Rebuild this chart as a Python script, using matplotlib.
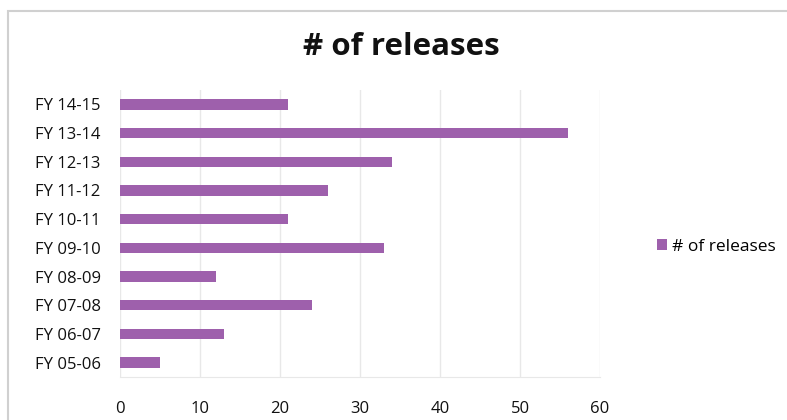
import matplotlib
matplotlib.use("Agg")
from matplotlib import pyplot as plt
from matplotlib.patches import Rectangle

plt.rcParams['font.family'] = ['Open Sans', 'DejaVu Sans']

years = ['FY 05-06', 'FY 06-07', 'FY 07-08', 'FY 08-09', 'FY 09-10',
         'FY 10-11', 'FY 11-12', 'FY 12-13', 'FY 13-14', 'FY 14-15']
releases = [5, 13, 24, 12, 33, 21, 26, 34, 56, 21]
series_name = '# of releases'
xticks = [0, 10, 20, 30, 40, 50, 60]

bar_color = '#9E60AC'

fig = plt.figure(figsize=(7.87, 4.2), dpi=100)
ax = fig.add_axes([120 / 787, 1 - 377 / 420, 480 / 787, 287 / 420])

# chart frame
fig.patches.append(Rectangle((8 / 787, -0.02), 1.1, (420 - 11) / 420 + 0.02,
                             transform=fig.transFigure, fill=False,
                             edgecolor='#d0d0d0', linewidth=1.5))

ax.barh(range(len(years)), releases, height=0.36, color=bar_color,
        label=series_name, zorder=3)
ax.set_xlim(0, 60)
ax.set_ylim(-0.5, len(years) - 0.5)
ax.set_xticks(xticks)
ax.set_yticks(range(len(years)))
ax.set_yticklabels(years)
ax.grid(axis='x', color='#e8e8e8', linewidth=1)
for side in ['top', 'right', 'left']:
    ax.spines[side].set_visible(False)
ax.spines['bottom'].set_color('#e8e8e8')
ax.tick_params(axis='both', length=0, labelsize=12, colors='#111111')
ax.tick_params(axis='x', pad=17)
ax.tick_params(axis='y', pad=14)

fig.text(401 / 787, 1 - 47 / 420, '# of releases', ha='center', va='center',
         fontsize=22.5, fontweight='bold', color='#111111')

ax.legend(loc='center left', bbox_to_anchor=(648 / 787, 1 - 247 / 420),
          bbox_transform=fig.transFigure, frameon=False, fontsize=12.5,
          handlelength=0.6, handleheight=0.6, handletextpad=0.3,
          borderpad=0)

fig.savefig('out.png', dpi=100)
